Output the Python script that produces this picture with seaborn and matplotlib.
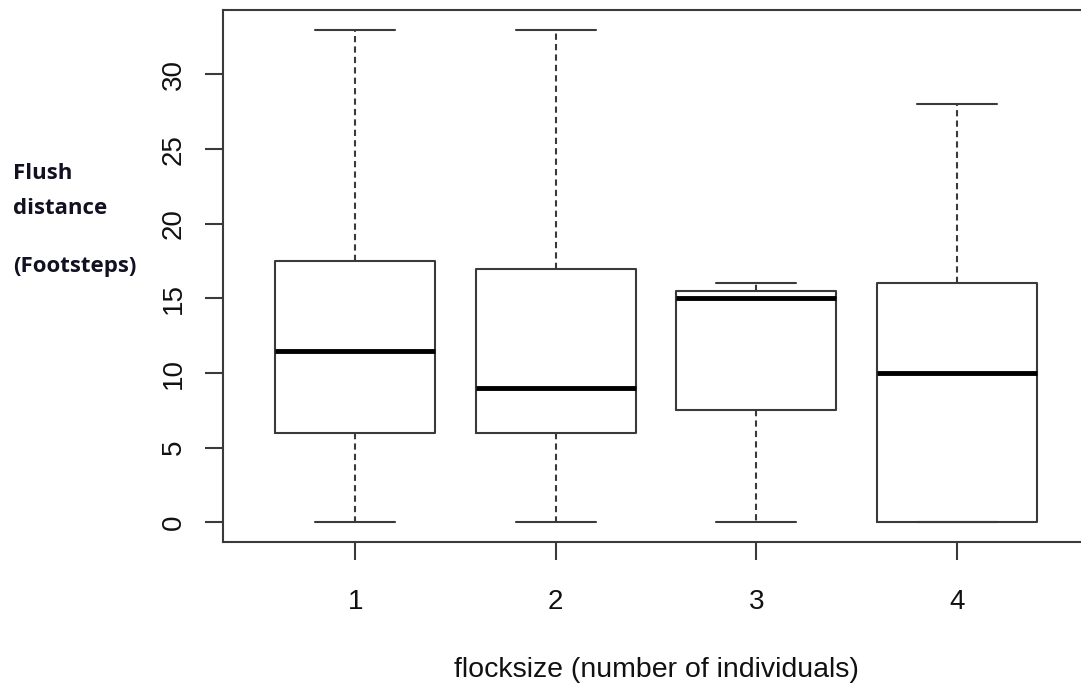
import pandas as pd
import matplotlib
matplotlib.use('Agg')
import matplotlib.pyplot as plt
import seaborn as sns

# five-number summaries (min, q1, median, q3, max)
flock_sizes = ['1', '2', '3', '4']
group1 = [0, 6, 11.5, 17.5, 33]
group2 = [0, 6, 9, 17, 33]
group3 = [0, 7.5, 15, 15.5, 16]
group4 = [0, 0, 10, 16, 28]

y_ticks = [0, 5, 10, 15, 20, 25, 30]
side_labels = ['Flush', 'distance', '(Footsteps)']
side_label_base = [179, 214, 272]

rows = []
for name, vals in zip(flock_sizes, [group1, group2, group3, group4]):
    for v in vals:
        rows.append({'flocksize': name, 'distance': v})
frame = pd.DataFrame(rows)

sns.set_style('white')
plt.rcParams['font.family'] = ['Liberation Sans', 'DejaVu Sans']

fig = plt.figure(figsize=(10.81, 6.86), dpi=100)
ax = fig.add_axes([223 / 1081, (686 - 542) / 686, (1089 - 223) / 1081, (542 - 10) / 686])

line_col = '#3a3a3a'
sns.boxplot(data=frame, x='flocksize', y='distance', order=flock_sizes,
            fill=False, width=0.8, linecolor=line_col, linewidth=1.5,
            whis=1.5, showfliers=False, ax=ax,
            medianprops=dict(color='black', linewidth=3.5),
            whiskerprops=dict(color=line_col, linewidth=1.5, linestyle=(0, (3, 2))),
            capprops=dict(color=line_col, linewidth=1.5),
            boxprops=dict(color=line_col, linewidth=1.5))

ax.set_xlim(-0.66, 3.66)
ax.set_ylim(-1.32, 34.32)
ax.set_yticks(y_ticks)
ax.set_yticklabels([str(t) for t in y_ticks], rotation=90, va='center')

for side in ['left', 'right', 'top', 'bottom']:
    ax.spines[side].set_visible(True)
    ax.spines[side].set_color(line_col)
    ax.spines[side].set_linewidth(1.5)

ax.tick_params(axis='both', direction='out', length=13, width=1.5,
               color=line_col, labelsize=20, labelcolor='#111111',
               bottom=True, left=True)
ax.tick_params(axis='y', pad=13)
ax.tick_params(axis='x', pad=21)

ax.set_ylabel('')
ax.set_xlabel('flocksize (number of individuals)', fontsize=20.5, color='#111111')
ax.xaxis.label.set_va('center')
ax.xaxis.set_label_coords(0.5, (542 - 670) / 532)

for label, ypos in zip(side_labels, side_label_base):
    fig.text(13 / 1081, 1 - ypos / 686, label, family=['Open Sans', 'DejaVu Sans'],
             fontweight='bold', fontsize=16, color='#111122',
             ha='left', va='baseline')

fig.savefig('out.png', dpi=100)
